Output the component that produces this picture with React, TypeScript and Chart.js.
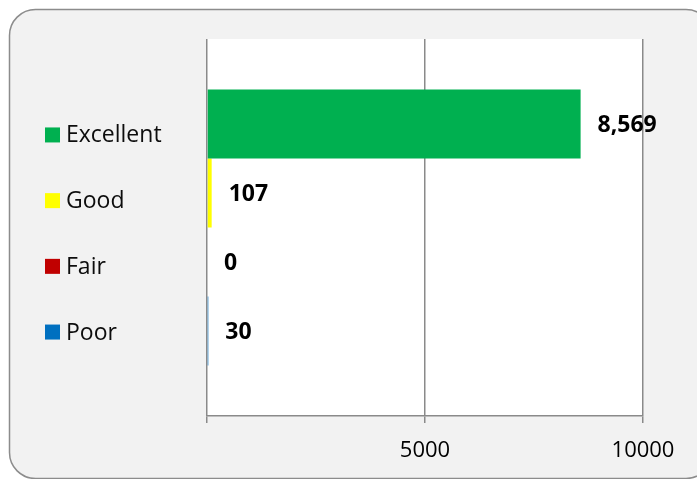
import React, { useEffect, useRef } from "react";
import { Chart, registerables } from "chart.js";

Chart.register(...registerables);

const categories = ["Rating"];
const seriesNames = ["Excellent", "Good", "Fair", "Poor"];
const seriesValues = [8569, 107, 0, 30];
const seriesColors = ["#00B050", "#FFFF00", "#C00000", "#0070C0"];
const tickValues = [0, 5000, 10000];
const tickLabels = ["", "5000", "10000"];

const FONT = "'Open Sans', 'DejaVu Sans', sans-serif";

const framePlugin = {
  id: "frame",
  beforeDraw(chart: any) {
    const { ctx, chartArea } = chart;
    ctx.save();
    ctx.fillStyle = "#ffffff";
    ctx.fillRect(0, 0, chart.width, chart.height);
    const x = 9.5, y = 9.5, w = 712 - 9.5, h = 478.5 - 9.5, r = 26;
    ctx.beginPath();
    ctx.moveTo(x + r, y);
    ctx.lineTo(x + w - r, y);
    ctx.arcTo(x + w, y, x + w, y + r, r);
    ctx.lineTo(x + w, y + h - r);
    ctx.arcTo(x + w, y + h, x + w - r, y + h, r);
    ctx.lineTo(x + r, y + h);
    ctx.arcTo(x, y + h, x, y + h - r, r);
    ctx.lineTo(x, y + r);
    ctx.arcTo(x, y, x + r, y, r);
    ctx.closePath();
    ctx.fillStyle = "#F2F2F2";
    ctx.fill();
    ctx.lineWidth = 1.5;
    ctx.strokeStyle = "#8C8C8C";
    ctx.stroke();
    ctx.fillStyle = "#ffffff";
    ctx.fillRect(chartArea.left, chartArea.top, chartArea.right - chartArea.left, chartArea.bottom - chartArea.top);
    ctx.restore();
  },
};

const sideLegendPlugin = {
  id: "sideLegend",
  afterDraw(chart: any) {
    const { ctx, chartArea } = chart;
    const n = chart.data.datasets.length;
    const mid = (chartArea.top + chartArea.bottom) / 2 + 6;
    const step = 65.7;
    ctx.save();
    ctx.font = `23px ${FONT}`;
    ctx.textBaseline = "middle";
    ctx.textAlign = "left";
    chart.data.datasets.forEach((ds: any, i: number) => {
      const cy = mid + (i - (n - 1) / 2) * step;
      ctx.fillStyle = ds.backgroundColor;
      ctx.fillRect(45, cy - 7.5, 15, 15);
      ctx.fillStyle = "#0D0D0D";
      ctx.fillText(ds.label, 66, cy + 1);
    });
    ctx.restore();
  },
};

const valueLabelPlugin = {
  id: "valueLabels",
  afterDatasetsDraw(chart: any) {
    const { ctx } = chart;
    ctx.save();
    ctx.font = `bold 23px ${FONT}`;
    ctx.textBaseline = "middle";
    ctx.textAlign = "left";
    ctx.fillStyle = "#000000";
    chart.data.datasets.forEach((ds: any, i: number) => {
      const meta = chart.getDatasetMeta(i);
      const bar = meta.data[0];
      const v = ds.data[0] as number;
      ctx.fillText(v.toLocaleString("en-US"), bar.x + 17, bar.y + 1);
    });
    ctx.restore();
  },
};

export default function App() {
  const ref = useRef<HTMLCanvasElement>(null);
  useEffect(() => {
    if (!ref.current) return;
    Chart.defaults.font.family = FONT;
    const chart = new Chart(ref.current, {
      type: "bar",
      data: {
        labels: categories,
        datasets: seriesNames.map((name, i) => ({
          label: name,
          data: [seriesValues[i]],
          backgroundColor: seriesColors[i],
          borderWidth: 0,
          categoryPercentage: 0.732,
          barPercentage: 1,
        })),
      },
      options: {
        indexAxis: "y",
        responsive: false,
        animation: false,
        layout: { padding: { left: 207, right: 54, top: 39, bottom: 0 } },
        plugins: { legend: { display: false }, tooltip: { enabled: false } },
        scales: {
          y: { display: false },
          x: {
            min: 0,
            max: 10000,
            afterFit(scale: any) {
              scale.height = 63;
            },
            afterBuildTicks(scale: any) {
              scale.ticks = tickValues.map((v) => ({ value: v }));
            },
            grid: { color: "#8A8A8A", lineWidth: 1.5, tickLength: 7, drawOnChartArea: true },
            border: { display: true, color: "#8A8A8A", width: 1.5 },
            ticks: {
              color: "#000000",
              font: { size: 22, family: FONT },
              padding: 15,
              maxRotation: 0,
              autoSkip: false,
              callback: (v: any) => tickLabels[tickValues.indexOf(Number(v))] ?? "",
            },
          },
        },
      } as any,
      plugins: [framePlugin, valueLabelPlugin, sideLegendPlugin],
    });
    return () => chart.destroy();
  }, []);
  return (
    <div style={{ position: "absolute", left: 0, top: 0, width: 697, height: 479 }}>
      <canvas ref={ref} width={697} height={479} />
    </div>
  );
}
